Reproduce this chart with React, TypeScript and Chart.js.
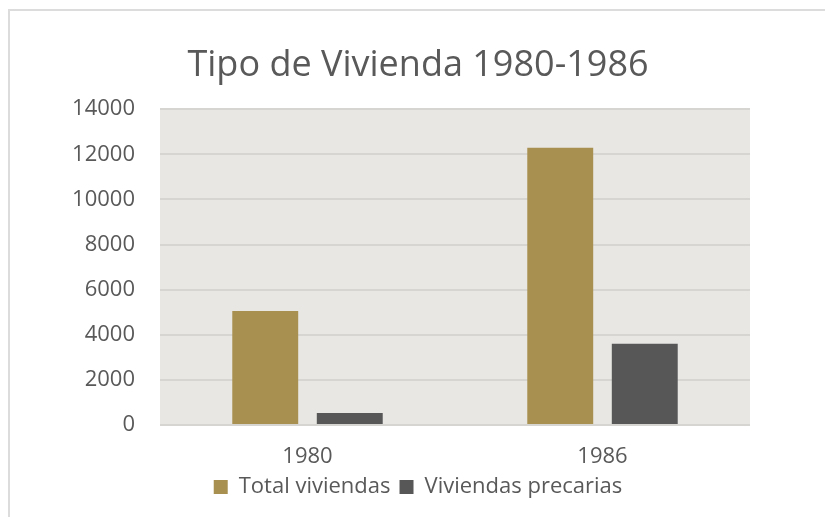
import React, { useEffect, useRef } from "react";
import { Chart, registerables } from "chart.js";

Chart.register(...registerables);

const title = "Tipo de Vivienda 1980-1986";
const categories = ["1980", "1986"];
const seriesNames = ["Total viviendas", "Viviendas precarias"];
const totalViviendas = [5050, 12290];
const viviendasPrecarias = [530, 3600];
const yMin = 0;
const yMax = 14000;
const yStep = 2000;

const FONT = "'Open Sans', 'DejaVu Sans', sans-serif";
const TEXT = "#595959";

const framePlugin = {
  id: "frame",
  beforeDraw(chart: any) {
    const { ctx, chartArea } = chart;
    ctx.save();
    ctx.fillStyle = "#ffffff";
    ctx.fillRect(0, 0, chart.width, chart.height);
    ctx.strokeStyle = "#dcdcdc";
    ctx.lineWidth = 2;
    ctx.beginPath();
    ctx.moveTo(9, chart.height);
    ctx.lineTo(9, 10);
    ctx.lineTo(chart.width, 10);
    ctx.stroke();
    ctx.fillStyle = "#e8e7e4";
    ctx.fillRect(chartArea.left, chartArea.top, chartArea.right - chartArea.left, chartArea.bottom - chartArea.top);
    ctx.restore();
  },
};

export default function App() {
  const ref = useRef<HTMLCanvasElement | null>(null);
  useEffect(() => {
    if (!ref.current) return;
    const chart = new Chart(ref.current, {
      type: "bar",
      data: {
        labels: categories,
        datasets: [
          {
            label: seriesNames[0],
            data: totalViviendas,
            backgroundColor: "#a89150",
            categoryPercentage: 0.573,
            barPercentage: 0.78,
          },
          {
            label: seriesNames[1],
            data: viviendasPrecarias,
            backgroundColor: "#575757",
            categoryPercentage: 0.573,
            barPercentage: 0.78,
          },
        ],
      },
      options: {
        responsive: false,
        animation: false,
        layout: { padding: { left: 65, right: 54, top: 0, bottom: 9 } },
        plugins: {
          title: {
            display: true,
            text: title,
            color: TEXT,
            font: { family: FONT, size: 36, weight: "normal" },
            padding: { top: 44, bottom: 22 },
          },
          legend: {
            display: true,
            position: "bottom",
            labels: {
              color: TEXT,
              font: { family: FONT, size: 22 },
              boxWidth: 14,
              boxHeight: 14,
              padding: 9,
            },
          },
          tooltip: { enabled: false },
        },
        scales: {
          x: {
            afterFit(scale: any) {
              scale.height = 42;
            },
            grid: { display: false, drawTicks: false },
            border: { display: false },
            ticks: { color: TEXT, font: { family: FONT, size: 22 }, padding: 19 },
          },
          y: {
            min: yMin,
            max: yMax,
            afterFit(scale: any) {
              scale.width = 95;
            },
            grid: { color: "#d6d5d2", lineWidth: 2, drawTicks: false },
            border: { display: false },
            ticks: {
              stepSize: yStep,
              color: TEXT,
              font: { family: FONT, size: 22 },
              padding: 25,
              callback: (v: any) => String(v),
            },
          },
          y2: {
            position: "right",
            min: yMin,
            max: yMax,
            afterFit(scale: any) {
              scale.width = 21;
            },
            grid: { display: false, drawTicks: false },
            border: { display: false },
            ticks: { display: false },
          },
        },
      },
      plugins: [framePlugin],
    });
    return () => chart.destroy();
  }, []);
  return (
    <div style={{ position: "absolute", left: 0, top: 0, width: 825, height: 517 }}>
      <canvas ref={ref} width={825} height={517} />
    </div>
  );
}
